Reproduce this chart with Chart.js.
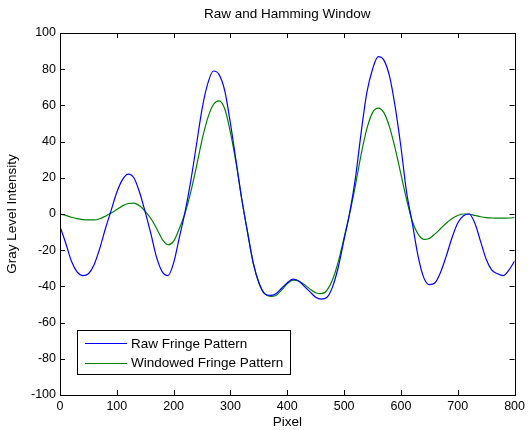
<!DOCTYPE html>
<html>
<head>
<meta charset="utf-8">
<script src="https://cdn.jsdelivr.net/npm/chart.js@4/dist/chart.umd.min.js"></script>
<style>
  html, body { margin: 0; padding: 0; background: #fff; }
  #wrap { width: 529px; height: 430px; }
</style>
</head>
<body>
<div id="wrap"><canvas id="MyChart" width="529" height="430"></canvas></div>
<script>
// pixel positions along the sensor (step of 10)
const pixels = [];
for (let p = 0; p <= 800; p += 10) pixels.push(p);

// values
const rawFringe = [
  -7, -16, -26, -32, -34, -33, -28, -19, -8, 2,
  12, 19, 22, 20, 12, 1, -11, -24, -32, -34,
  -27, -13, 1, 18, 38, 58, 72, 79, 77, 68,
  50, 29, 8, -10, -27, -38, -44, -45, -44, -41,
  -38, -36, -37, -40, -43, -46, -47, -46, -40, -29,
  -14, 1, 20, 45, 67, 80, 87, 85, 76, 59,
  37, 12, -5, -23, -35, -39, -38, -32, -23, -13,
  -5, -1, 0, -5, -15, -25, -31, -33, -34, -31,
  -26
];
const windowedFringe = [
  0, -0.8, -1.8, -2.6, -3.1, -3.3, -3.3, -2.6, -1.2, 0.5,
  2.5, 4.5, 5.8, 6, 4.5, 1.5, -2.5, -8, -14, -17,
  -15, -8, 0.5, 12, 26, 41, 53, 60.5, 62.5, 58,
  45, 28, 8, -10, -27, -38, -44, -45.5, -45, -42,
  -38.5, -36.5, -37, -39, -41.5, -43.5, -44, -42, -36, -26,
  -13, 0.5, 16, 33, 47, 56, 58.5, 56, 48, 36,
  22, 8, -4, -11, -14, -13.5, -11, -8, -5, -2.5,
  -0.8, 0, 0, -0.8, -1.5, -2, -2.2, -2.3, -2.3, -2.2,
  -2
];
const seriesNames = ['Raw Fringe Pattern', 'Windowed Fringe Pattern'];
const seriesColors = ['#0000ff', '#008000'];
const xTicks = [0, 100, 200, 300, 400, 500, 600, 700, 800];
const yTicks = [-100, -80, -60, -40, -20, 0, 20, 40, 60, 80, 100];

const FONT = 'Liberation Sans, Arial, sans-serif';

function toPoints(vals) {
  return vals.map((v, i) => ({ x: pixels[i], y: v }));
}

// box, inward tick marks, title and legend like the matlab figure
const matlabFrame = {
  id: 'matlabFrame',
  afterDraw(chart) {
    const ctx = chart.ctx;
    const a = chart.chartArea;
    const xs = chart.scales.x, ys = chart.scales.y;
    ctx.save();
    ctx.strokeStyle = '#000';
    ctx.lineWidth = 1;
    ctx.strokeRect(Math.round(a.left) + 0.5, Math.round(a.top) + 0.5,
      Math.round(a.right - a.left), Math.round(a.bottom - a.top));
    ctx.beginPath();
    xTicks.forEach(t => {
      const px = Math.round(xs.getPixelForValue(t)) + 0.5;
      ctx.moveTo(px, a.bottom); ctx.lineTo(px, a.bottom - 5);
      ctx.moveTo(px, a.top); ctx.lineTo(px, a.top + 5);
    });
    yTicks.forEach(t => {
      const py = Math.round(ys.getPixelForValue(t)) + 0.5;
      ctx.moveTo(a.left, py); ctx.lineTo(a.left + 5, py);
      ctx.moveTo(a.right, py); ctx.lineTo(a.right - 5, py);
    });
    ctx.stroke();

    // title
    ctx.fillStyle = '#000';
    ctx.font = '13.5px ' + FONT;
    ctx.textAlign = 'center';
    ctx.textBaseline = 'middle';
    ctx.fillText('Raw and Hamming Window', (a.left + a.right) / 2, 14);

    // legend
    const lx = 77, ly = 330, lw = 213, lh = 44;
    ctx.fillStyle = '#fff';
    ctx.fillRect(lx, ly, lw, lh);
    ctx.strokeStyle = '#000';
    ctx.strokeRect(lx + 0.5, ly + 0.5, lw, lh);
    ctx.textAlign = 'left';
    seriesNames.forEach((name, i) => {
      const y = ly + 13 + i * 19.5;
      ctx.strokeStyle = seriesColors[i];
      ctx.beginPath();
      ctx.moveTo(lx + 8, Math.round(y) + 0.5);
      ctx.lineTo(lx + 50, Math.round(y) + 0.5);
      ctx.stroke();
      ctx.fillStyle = '#000';
      ctx.fillText(name, lx + 54, y + 1);
    });
    ctx.restore();
  }
};

const ctx = document.getElementById('MyChart').getContext('2d');
new Chart(ctx, {
  type: 'line',
  data: {
    datasets: [
      { label: seriesNames[0], data: toPoints(rawFringe), borderColor: seriesColors[0] },
      { label: seriesNames[1], data: toPoints(windowedFringe), borderColor: seriesColors[1] }
    ]
  },
  options: {
    responsive: false,
    animation: false,
    layout: { padding: { top: 33, right: 13, bottom: 0, left: 0 } },
    elements: {
      point: { radius: 0 },
      line: { borderWidth: 1.2, cubicInterpolationMode: 'monotone', fill: false }
    },
    plugins: {
      legend: { display: false },
      title: { display: false },
      tooltip: { enabled: false }
    },
    scales: {
      x: {
        type: 'linear',
        min: 0,
        max: 800,
        afterFit: (s) => { s.height = 35; },
        afterBuildTicks: (s) => { s.ticks = xTicks.map(v => ({ value: v })); },
        grid: { display: false, drawTicks: false },
        border: { display: false },
        ticks: { color: '#000', padding: 4, maxRotation: 0, font: { family: FONT, size: 12.5 } },
        title: { display: true, text: 'Pixel', color: '#000', padding: { top: 0, bottom: 0 }, font: { family: FONT, size: 13.5 } }
      },
      y: {
        min: -100,
        max: 100,
        afterFit: (s) => { s.width = 60; },
        afterBuildTicks: (s) => { s.ticks = yTicks.map(v => ({ value: v })); },
        grid: { display: false, drawTicks: false },
        border: { display: false },
        ticks: { color: '#000', padding: 4, font: { family: FONT, size: 12.5 } },
        title: { display: true, text: 'Gray Level Intensity', color: '#000', padding: { top: 4, bottom: 0 }, font: { family: FONT, size: 13.5 } }
      }
    }
  },
  plugins: [matlabFrame]
});
</script>
</body>
</html>
